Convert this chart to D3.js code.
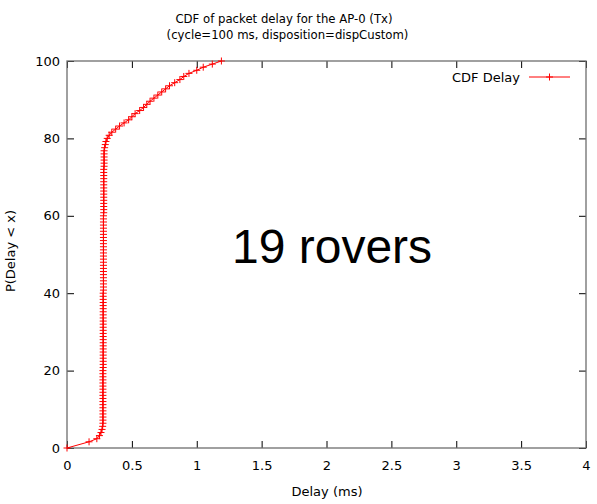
<!DOCTYPE html>
<html>
<head>
<meta charset="utf-8">
<script src="https://cdn.jsdelivr.net/npm/d3@7/dist/d3.min.js"></script>
<style>
  html, body { margin: 0; padding: 0; background: #fff; }
  svg { display: block; font-family: "DejaVu Sans", sans-serif; }
</style>
</head>
<body>
<svg id="chart" width="597" height="504"></svg>
<script>
const titleLines = ["CDF of packet delay for the AP-0 (Tx)", "(cycle=100 ms, disposition=dispCustom)"];
const xLabel = "Delay (ms)";
const yLabel = "P(Delay < x)";
const seriesName = "CDF Delay";
const annotation = "19 rovers";
const xTicks = [0, 0.5, 1, 1.5, 2, 2.5, 3, 3.5, 4];
const yTicks = [0, 20, 40, 60, 80, 100];

// [delay (ms), P(Delay < x) in %]
const cdfPoints = [
  [0, 0], [0.17, 1.6], [0.23, 2.4], [0.25, 3.2], [0.262, 4.0], [0.27, 4.8], [0.275, 5.6],
  [0.277, 6.4], [0.277, 7.2], [0.277, 8.0], [0.277, 8.8], [0.277, 9.6], [0.277, 10.4],
  [0.277, 11.2], [0.277, 12.0], [0.277, 12.8], [0.277, 13.6], [0.277, 14.4], [0.277, 15.2],
  [0.277, 16.0], [0.277, 16.8], [0.277, 17.6], [0.277, 18.4], [0.277, 19.2], [0.277, 20.0],
  [0.279, 20.8], [0.279, 21.6], [0.279, 22.4], [0.279, 23.2], [0.279, 24.0], [0.279, 24.8],
  [0.279, 25.6], [0.279, 26.4], [0.279, 27.2], [0.279, 28.0], [0.279, 28.8], [0.279, 29.6],
  [0.279, 30.4], [0.279, 31.2], [0.279, 32.0], [0.279, 32.8], [0.279, 33.6], [0.279, 34.4],
  [0.279, 35.2], [0.279, 36.0], [0.279, 36.8], [0.279, 37.6], [0.279, 38.4], [0.279, 39.2],
  [0.279, 40.0],
  [0.281, 40.8], [0.281, 41.6], [0.281, 42.4], [0.281, 43.2], [0.281, 44.0], [0.281, 44.8],
  [0.281, 45.6], [0.281, 46.4], [0.281, 47.2], [0.281, 48.0], [0.281, 48.8], [0.281, 49.6],
  [0.281, 50.4], [0.281, 51.2], [0.281, 52.0], [0.281, 52.8], [0.281, 53.6], [0.281, 54.4],
  [0.281, 55.2], [0.281, 56.0], [0.281, 56.8], [0.281, 57.6], [0.281, 58.4], [0.281, 59.2],
  [0.281, 60.0],
  [0.283, 60.8], [0.283, 61.6], [0.283, 62.4], [0.283, 63.2], [0.283, 64.0], [0.283, 64.8],
  [0.283, 65.6], [0.283, 66.4], [0.283, 67.2], [0.283, 68.0], [0.283, 68.8], [0.283, 69.6],
  [0.283, 70.4], [0.283, 71.2], [0.283, 72.0],
  [0.286, 72.8], [0.286, 73.6], [0.286, 74.4], [0.286, 75.2], [0.286, 76.0], [0.286, 76.8],
  [0.29, 77.6], [0.295, 78.4], [0.30, 79.2], [0.31, 80.0], [0.325, 80.8], [0.345, 81.6],
  [0.375, 82.4], [0.405, 83.2], [0.44, 84.0], [0.475, 84.8], [0.50, 85.6], [0.525, 86.4],
  [0.56, 87.2], [0.59, 88.0], [0.615, 88.8], [0.64, 89.6], [0.67, 90.4], [0.70, 91.2],
  [0.73, 92.0], [0.76, 92.8], [0.79, 93.6], [0.83, 94.4], [0.87, 95.2], [0.90, 96.0],
  [0.94, 96.8], [1.0, 97.6], [1.05, 98.4], [1.12, 99.2], [1.19, 100]
];

const svg = d3.select("#chart");
const plotLeft = 67, plotRight = 586, plotTop = 61, plotBottom = 448;
const x = d3.scaleLinear().domain([0, 4]).range([plotLeft, plotRight]);
const y = d3.scaleLinear().domain([0, 100]).range([plotBottom, plotTop]);
const red = "#ff0000";
const fs = 13;

// Title
svg.append("text").attr("x", 284).attr("y", 23).attr("text-anchor", "middle")
  .attr("font-size", 11.7).attr("fill", "#000").text(titleLines[0]);
svg.append("text").attr("x", 287.5).attr("y", 39).attr("text-anchor", "middle")
  .attr("font-size", 11.7).attr("fill", "#000").text(titleLines[1]);

// Axes
function styleAxis(g) {
  g.select(".domain").remove();
  g.selectAll(".tick line").attr("stroke", "#000").attr("stroke-width", 1);
  g.selectAll(".tick text").attr("font-size", fs).attr("fill", "#000")
    .attr("font-family", "DejaVu Sans, sans-serif");
}
svg.append("g").attr("transform", `translate(0,${plotBottom})`)
  .call(d3.axisBottom(x).tickValues(xTicks).tickFormat(d3.format("")).tickSize(-7).tickPadding(13))
  .call(styleAxis);
svg.append("g").attr("transform", `translate(0,${plotTop})`)
  .call(d3.axisTop(x).tickValues(xTicks).tickFormat("").tickSize(-7))
  .call(styleAxis);
svg.append("g").attr("transform", `translate(${plotLeft},0)`)
  .call(d3.axisLeft(y).tickValues(yTicks).tickSize(-7).tickPadding(7))
  .call(styleAxis);
svg.append("g").attr("transform", `translate(${plotRight},0)`)
  .call(d3.axisRight(y).tickValues(yTicks).tickFormat("").tickSize(-7))
  .call(styleAxis);

// Border
svg.append("rect").attr("x", plotLeft).attr("y", plotTop)
  .attr("width", plotRight - plotLeft).attr("height", plotBottom - plotTop)
  .attr("fill", "none").attr("stroke", "#6e6e6e").attr("stroke-width", 1.3);

// Annotation
svg.append("text").attr("x", 232).attr("y", 263)
  .attr("font-family", "Liberation Sans, Arial, sans-serif")
  .attr("font-size", 48).attr("fill", "#000").text(annotation);

// Axis labels
svg.append("text").attr("x", 327).attr("y", 496).attr("text-anchor", "middle")
  .attr("font-size", fs).attr("fill", "#000").text(xLabel);
svg.append("text").attr("transform", "translate(15,251) rotate(-90)")
  .attr("text-anchor", "middle").attr("font-size", fs).attr("fill", "#000").text(yLabel);

// Series line
const line = d3.line().x(d => x(d[0])).y(d => y(d[1]));
svg.append("path").datum(cdfPoints).attr("d", line)
  .attr("fill", "none").attr("stroke", red).attr("stroke-width", 1);

// Markers
const m = 3.5;
const plus = (cx, cy) => `M${cx - m},${cy}H${cx + m}M${cx},${cy - m}V${cy + m}`;
svg.append("g").selectAll("path").data(cdfPoints).join("path")
  .attr("d", d => plus(x(d[0]), y(d[1])))
  .attr("stroke", red).attr("stroke-width", 1).attr("fill", "none");

// Legend
svg.append("text").attr("x", 520).attr("y", 82).attr("text-anchor", "end")
  .attr("font-size", fs).attr("fill", "#000").text(seriesName);
svg.append("line").attr("x1", 529).attr("x2", 570).attr("y1", 77).attr("y2", 77)
  .attr("stroke", red).attr("stroke-width", 1);
svg.append("path").attr("d", plus(549.5, 77)).attr("stroke", red).attr("stroke-width", 1);
</script>
</body>
</html>
